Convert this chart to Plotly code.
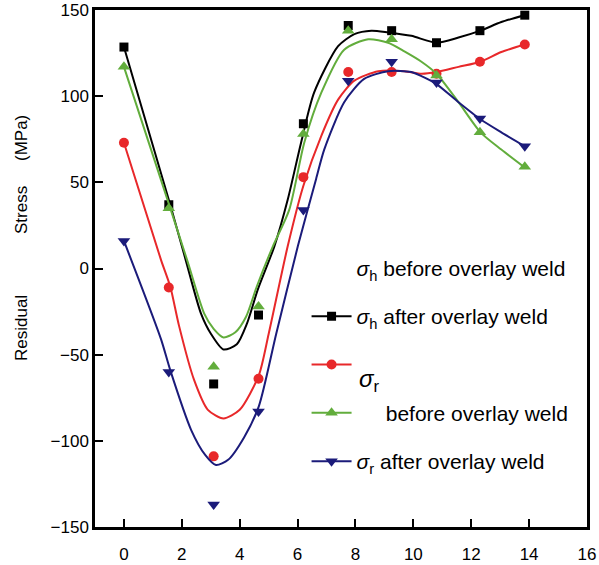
import plotly.graph_objects as go

# ---- data ----
x_pos = [0.0, 1.55, 3.1, 4.65, 6.2, 7.75, 9.25, 10.8, 12.3, 13.85]
sh_before_pts = [128.5, 37, -67, -27, 84, 141, 138, 131, 138, 147]   # black squares
sh_after_pts = [73, -11, -109, -64, 53, 114, 114, 113, 120, 130]      # red circles
sr_before_pts = [117, 35, -57, -22, 78, 138, 133, 112, 79, 59]        # green triangles
sr_after_pts = [16, -60, -137, -83, 34, 109, 120, 108, 87, 71]        # blue triangles

# fitted curves
black_cx = [0.0, 1.6, 2.15, 2.66, 3.01, 3.44, 3.9, 4.25, 4.63, 5.2, 5.66, 6.12, 6.57, 7.4, 7.96, 8.55, 9.13, 9.93, 10.8, 11.56, 12.32, 13.04, 13.84]
black_cy = [128.5, 37, 4, -26, -38, -47, -44, -32, -12, 13, 40, 73, 102, 129, 136, 138, 137, 135, 131, 134, 138, 143, 147]
green_cx = [0.0, 1.6, 2.2, 2.77, 3.1, 3.44, 3.85, 4.22, 4.6, 5.15, 5.71, 6.23, 6.82, 7.61, 8.44, 9.13, 9.69, 10.28, 10.8, 11.56, 12.32, 13.04, 13.84]
green_cy = [117, 35, 4, -26, -35, -40, -37, -28, -10, 13, 34, 73, 102, 127, 133, 131, 126, 120, 113, 96.5, 79, 69, 58.7]
red_cx = [0.0, 1.28, 1.6, 1.9, 2.42, 2.9, 3.44, 4.0, 4.66, 5.0, 5.66, 6.2, 6.82, 7.4, 7.96, 8.79, 9.69, 10.28, 10.8, 11.56, 12.32, 13.04, 13.84]
red_cy = [73, 5, -10.5, -33, -64.5, -82, -87, -82, -62, -38, 13, 48, 77, 98, 109, 114.5, 114.5, 113, 114, 117, 120, 125.6, 130]
blue_cx = [0.0, 1.28, 1.6, 2.32, 2.8, 3.18, 3.6, 4.15, 4.66, 5.26, 6.01, 6.64, 6.92, 7.61, 8.3, 9.13, 9.93, 10.28, 10.8, 11.56, 12.32, 13.04, 13.84]
blue_cy = [16, -41, -59, -93.6, -108, -114, -111, -98, -80, -38, 13, 52, 69, 96.5, 110, 114.5, 114, 111.6, 107, 96.5, 86.6, 79, 71]

x_ticks = [0, 2, 4, 6, 8, 10, 12, 14, 16]
y_ticks = [-150, -100, -50, 0, 50, 100, 150]

legend_names = [
    "<i>σ</i><sub>h</sub> before overlay weld",
    "<i>σ</i><sub>h</sub> after overlay weld",
    " ",
    "\u00a0\u00a0\u00a0\u00a0\u00a0before overlay weld",
    "<i>σ</i><sub>r</sub> after overlay weld",
]

BLACK = "#000000"
RED = "#e8282a"
GREEN = "#62ad3c"
BLUE = "#1b1b7a"

series = [
    (black_cx, black_cy, sh_before_pts, BLACK, "square", 9),
    (red_cx, red_cy, sh_after_pts, RED, "circle", 10),
    (green_cx, green_cy, sr_before_pts, GREEN, "triangle-up", 11),
    (blue_cx, blue_cy, sr_after_pts, BLUE, "triangle-down", 11),
]

fig = go.Figure()
for cx, cy, pts, col, sym, sz in series:
    fig.add_trace(go.Scatter(x=cx, y=cy, mode="lines", line=dict(color=col, width=2, shape="spline", smoothing=0.7),
                             showlegend=False, hoverinfo="skip"))
    fig.add_trace(go.Scatter(x=x_pos, y=pts, mode="markers", marker=dict(color=col, symbol=sym, size=sz),
                             showlegend=False))

# legend-only entries
leg_styles = [
    (None, None, None),
    (BLACK, "square", 9),
    (RED, "circle", 10),
    (GREEN, "triangle-up", 11),
    (BLUE, "triangle-down", 11),
]
for i, (name, (col, sym, sz)) in enumerate(zip(legend_names, leg_styles)):
    if col is None:
        fig.add_trace(go.Scatter(x=[None], y=[None], mode="markers", name=name, legendgroup=f"g{i}",
                                 marker=dict(color="rgba(0,0,0,0)", size=1)))
    else:
        fig.add_trace(go.Scatter(x=[None], y=[None], mode="lines+markers", name=name, legendgroup=f"g{i}",
                                 line=dict(color=col, width=2), marker=dict(color=col, symbol=sym, size=sz)))

axis_font = dict(family="Liberation Sans, Arial, sans-serif", size=17, color="black")
fig.update_layout(
    width=599, height=565,
    margin=dict(l=95, r=12, t=10, b=38),
    paper_bgcolor="white", plot_bgcolor="white",
    font=axis_font,
    showlegend=True,
    legend=dict(x=0.43, y=0.54, xanchor="left", yanchor="top", traceorder="grouped",
                tracegroupgap=18, itemwidth=40, bgcolor="rgba(0,0,0,0)",
                font=dict(family="Liberation Sans, Arial, sans-serif", size=21, color="black")),
    xaxis=dict(range=[-1, 16], tickvals=x_ticks, ticks="inside", ticklen=8, tickwidth=2, tickcolor="black",
               showline=True, linecolor="black", linewidth=2.5, mirror=True, showgrid=False, zeroline=False,
               ticklabelstandoff=10, tickfont=axis_font, automargin=False),
    yaxis=dict(range=[-150, 150], tickvals=y_ticks, ticks="inside", ticklen=8, tickwidth=2, tickcolor="black",
               showline=True, linecolor="black", linewidth=2.5, mirror=True, showgrid=False, zeroline=False,
               tickfont=axis_font, automargin=False),
)

# y-axis title words
for word, ypx in [("Residual", 328), ("Stress", 210), ("(MPa)", 138)]:
    fig.add_annotation(text=word, xref="paper", yref="paper", x=(21 - 95) / 492, y=(527 - ypx) / 517,
                       showarrow=False, textangle=-90, font=dict(size=17, color="black",
                       family="Liberation Sans, Arial, sans-serif"), xanchor="center", yanchor="middle")

# stray sigma_r label inside the legend
fig.add_annotation(text="<i>σ</i><sub>r</sub>", xref="paper", yref="paper", x=(357 - 95) / 492, y=(527 - 380) / 517,
                   showarrow=False, xanchor="left", yanchor="middle",
                   font=dict(size=24, color="black", family="Liberation Sans, Arial, sans-serif"))

fig.write_html("out.html", config={"displayModeBar": False},
               post_script="document.body.style.margin='0';document.body.style.overflow='hidden';")
